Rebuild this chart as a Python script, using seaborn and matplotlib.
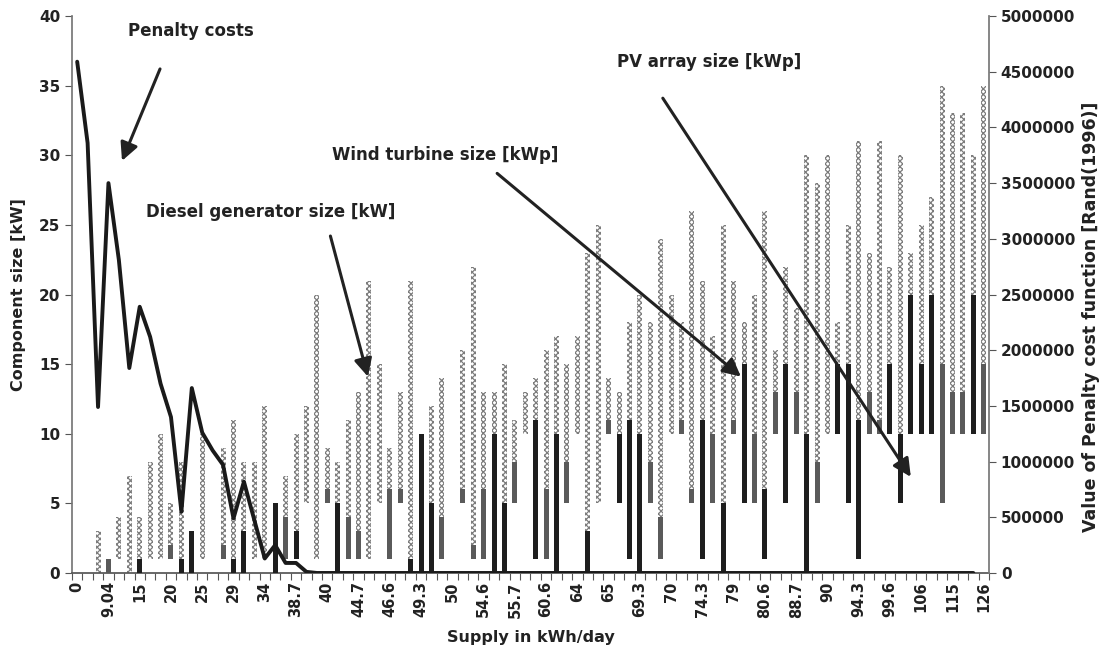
import numpy as np
import matplotlib
matplotlib.use("Agg")
import matplotlib.pyplot as plt
import seaborn as sns

nan = np.nan

# Category axis: supply levels (labels shown on every third category)
supply_labels = ["0", "9.04", "15", "20", "25", "29", "34", "38.7", "40", "44.7",
                 "46.6", "49.3", "50", "54.6", "55.7", "60.6", "64", "65", "69.3", "70",
                 "74.3", "79", "80.6", "88.7", "90", "94.3", "99.6", "106", "115", "126"]
n_categories = 88
label_step = 3

# Component sizes [kW] per design: solid band lo..mid, patterned band mid..top
band_lo = [nan, nan, 0, 0, 1, 0, 0, 1, 1, 1,
           0, 0, 1, nan, 1, 0, 0, 1, 1, 0,
           1, 1, 5, 1, 5, 0, 1, 1, 1, 5,
           1, 5, 0, 0, 0, 1, nan, 5, 1, 1,
           0, 0, 5, 10, 1, 1, 0, 5, 10, 0,
           5, 10, 5, 1, 0, 5, 1, 10, 10, 5,
           1, 5, 0, 10, 5, 5, 1, 10, 5, 10,
           0, 5, 10, 10, 5, 1, 10, 10, 10, 5,
           10, 10, 10, 5, 10, 10, 10, 10]
band_mid = [nan, nan, 0, 1, 1, 0, 1, 1, 1, 2,
            1, 3, 1, nan, 2, 1, 3, 1, 1, 5,
            4, 3, 5, 1, 6, 5, 4, 3, 1, 5,
            6, 6, 1, 10, 5, 4, nan, 6, 2, 6,
            10, 5, 8, 10, 11, 6, 10, 8, 10, 3,
            5, 11, 10, 11, 10, 8, 4, 10, 11, 6,
            11, 10, 5, 11, 15, 10, 6, 13, 15, 13,
            10, 8, 10, 15, 15, 11, 13, 11, 15, 10,
            20, 15, 20, 15, 13, 13, 20, 15]
band_top = [nan, nan, 3, 1, 4, 7, 4, 8, 10, 5,
            8, 3, 10, nan, 9, 11, 8, 8, 12, 5,
            7, 10, 12, 20, 9, 8, 11, 13, 21, 15,
            9, 13, 21, 10, 12, 14, nan, 16, 22, 13,
            13, 15, 11, 13, 14, 16, 17, 15, 17, 23,
            25, 14, 13, 18, 20, 18, 24, 20, 18, 26,
            21, 17, 25, 21, 18, 20, 26, 16, 22, 19,
            30, 28, 30, 18, 25, 31, 23, 31, 22, 30,
            23, 25, 27, 35, 33, 33, 30, 35]
# solid band tone: k = black, g = grey, . = none
band_tone = ("...g..k..g" "kk..gkk..k" "gk..gkgg.." "ggkkkg.ggg" "kkg.kgkg.k"
             ".gkkkgg.gg" "kgkgkgkgkg" "kg.kkkggkk" "kkkgggkg")

# Penalty cost function [Rand(1996)]
penalty = [4590000, 3860000, 1490000, 3500000, 2810000, 1840000, 2390000, 2120000, 1700000, 1400000,
           550000, 1660000, 1260000, 1100000, 970000, 490000, 820000, 475000, 130000, 250000,
           90000, 90000, 10000, 0, 0, 0, 0, 0, 0, 0,
           0, 0, 0, 0, 0, 0, 0, 0, 0, 0,
           0, 0, 0, 0, 0, 0, 0, 0, 0, 0,
           0, 0, 0, 0, 0, 0, 0, 0, 0, 0,
           0, 0, 0, 0, 0, 0, 0, 0, 0, 0,
           0, 0, 0, 0, 0, 0, 0, 0, 0, 0,
           0, 0, 0, 0, 0, 0, 0, nan]

sns.set_theme(style="white")
plt.rcParams["font.family"] = ["DejaVu Sans"]
plt.rcParams["hatch.linewidth"] = 0.9

TXT = "#222222"
fig = plt.figure(figsize=(11.04, 6.57), dpi=100)
ax = fig.add_axes([0.0652, 0.1279, 0.8306, 0.8477])

idx = np.arange(n_categories)
lo = np.array(band_lo, dtype=float)
mid = np.array(band_mid, dtype=float)
top = np.array(band_top, dtype=float)
tones = {"k": "#1e1e1e", "g": "#5a5a5a"}
bar_w = 0.48

# patterned bands
has_pat = ~np.isnan(top) & (top > mid)
ax.bar(idx[has_pat], (top - mid)[has_pat], bottom=mid[has_pat], width=bar_w,
       color="white", edgecolor="#7c7c7c", hatch="xxxxxx", linewidth=0, zorder=2)
# solid bands
for tone, col in tones.items():
    sel = np.array([t == tone for t in band_tone])
    ax.bar(idx[sel], (mid - lo)[sel], bottom=lo[sel], width=bar_w,
           color=col, linewidth=0, zorder=3)

ax.set_xlim(-0.5, n_categories - 0.5)
ax.set_ylim(0, 40)
ax.set_yticks(np.arange(0, 41, 5))
ax.set_xticks(np.arange(0, n_categories, label_step))
ax.set_xticklabels(supply_labels, rotation=90, fontsize=10.5, fontweight="bold", color=TXT)
ax.set_xticks(np.arange(-0.5, n_categories, 1), minor=True)
ax.tick_params(axis="x", which="major", length=0, pad=6)
ax.tick_params(axis="x", which="minor", length=5, width=0.8, color="#555", bottom=True)
ax.tick_params(axis="y", which="major", length=5, width=0.8, color="#555", left=True,
               labelsize=11, labelcolor=TXT)
for lab in ax.get_yticklabels():
    lab.set_fontweight("bold")
for s in ["top", "right"]:
    ax.spines[s].set_visible(False)
ax.spines["left"].set_color("#777")
ax.spines["bottom"].set_color("#555")
ax.set_ylabel("Component size [kW]", fontsize=11.5, fontweight="bold", color=TXT, labelpad=9)
ax.set_xlabel("Supply in kWh/day", fontsize=11.5, fontweight="bold", color=TXT, labelpad=9)

# penalty cost line on secondary axis
ax2 = ax.twinx()
sns.lineplot(x=idx, y=penalty, ax=ax2, color="#1a1a1a", linewidth=2.8, zorder=5)
ax2.set_ylim(0, 5000000)
ax2.set_yticks(np.arange(0, 5000001, 500000))
ax2.set_yticklabels([f"{int(v)}" for v in np.arange(0, 5000001, 500000)],
                    fontsize=11, fontweight="bold", color=TXT)
ax2.tick_params(axis="y", length=5, width=0.8, color="#555", right=True)
ax2.spines["top"].set_visible(False)
ax2.spines["left"].set_visible(False)
ax2.spines["bottom"].set_visible(False)
ax2.spines["right"].set_color("#777")
ax2.set_ylabel("Value of Penalty cost function [Rand(1996)]", fontsize=12.5,
               fontweight="bold", color=TXT, labelpad=5)
ax2.yaxis.label.set_y(0.46)

# annotations with arrows
arrow = dict(arrowstyle="-|>,head_length=0.9,head_width=0.45", color=TXT, lw=2.2,
             shrinkA=0, shrinkB=0)
notes = [
    ("Penalty costs", (10.9, 38.9), (7.95, 36.2), (4.3, 29.6)),
    ("Diesel generator size [kW]", (18.6, 25.9), (24.3, 24.2), (27.9, 14.1)),
    ("Wind turbine size [kWp]", (35.3, 30.0), (40.3, 28.7), (63.7, 14.1)),
    ("PV array size [kWp]", (60.6, 36.7), (56.2, 34.1), (80.0, 6.9)),
]
for text, tpos, tail, head in notes:
    ax2.text(*tpos, text, transform=ax.transData, ha="center", va="center",
             fontsize=12, fontweight="bold", color=TXT, zorder=6)
    ax2.annotate("", xy=head, xytext=tail, xycoords=ax.transData,
                 textcoords=ax.transData, arrowprops=arrow, zorder=6)

fig.savefig("out.png", dpi=100, facecolor="white")
